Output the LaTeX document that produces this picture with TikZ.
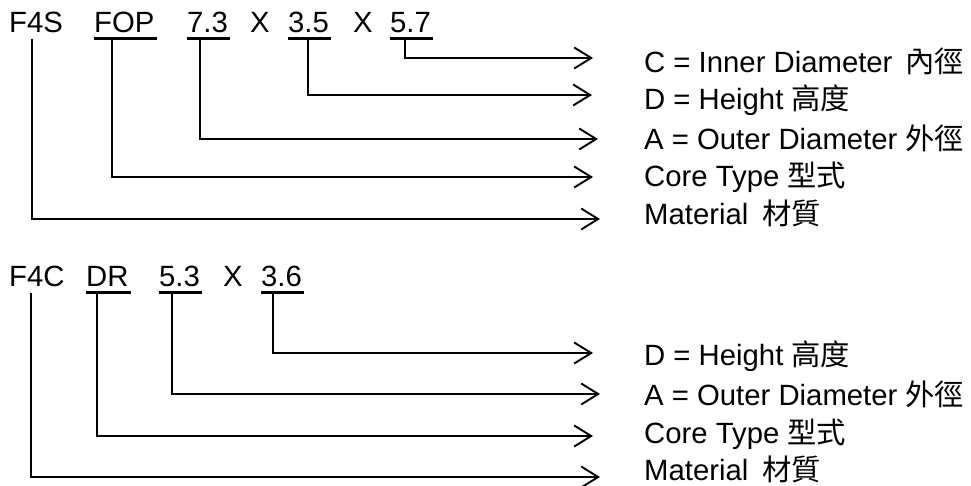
\documentclass[tikz,border=0pt]{standalone}
\usepackage{fontspec}
\setmainfont{Liberation Sans}
\newfontfamily\cjk{Noto Sans CJK TC}
\usetikzlibrary{arrows.meta}
\begin{document}
\begin{tikzpicture}[x=1pt,y=-1pt,
  txt/.style={inner sep=0pt, anchor=base west, font=\fontsize{29.3}{35}\selectfont},
  conn/.style={line width=1.9pt},
  arr/.style={conn, -{Straight Barb[length=17pt,width=21pt,line width=1.9pt]}},
  uline/.style={line width=3pt}]
\useasboundingbox (0,0) rectangle (971,486);

% ---------- block 1 ----------
\node[txt] (f4s) at (9,33) {F4S};
\node[txt] (fop) at (94,33) {FOP};
\node[txt] (a73) at (187,33) {7.3};
\node[txt] (x1) at (250,33) {X};
\node[txt] (a35) at (288,33) {3.5};
\node[txt] (x2) at (353,33) {X};
\node[txt] (a57) at (390,33) {5.7};
\foreach \n in {fop,a73,a35,a57}
  \draw[uline] ([yshift=-5.5pt]\n.base west) -- ([xshift=2pt,yshift=-5.5pt]\n.base east);

\node[txt] (l57) at (644,73) {C = Inner Diameter\hspace{13pt}{\cjk 內徑}};
\node[txt] (l35) at (644,110) {D = Height {\cjk 高度}};
\node[txt] (l73) at (644,150) {A = Outer Diameter {\cjk 外徑}};
\node[txt] (lfop) at (644,187) {Core Type {\cjk 型式}};
\node[txt] (lf4s) at (644,225) {Material\hspace{14pt}{\cjk 材質}};

\coordinate (t57) at (593,58);
\coordinate (t35) at (592,95);
\coordinate (t73) at (598,139);
\coordinate (tfop) at (593,177);
\coordinate (tf4s) at (600,219);

\draw[arr] ([xshift=15pt,yshift=-6pt]a57.base west) |- (t57);
\draw[arr] ([xshift=20pt,yshift=-6pt]a35.base west) |- (t35);
\draw[arr] ([xshift=13pt,yshift=-6pt]a73.base west) |- (t73);
\draw[arr] ([xshift=18pt,yshift=-6pt]fop.base west) |- (tfop);
\draw[arr] ([xshift=23pt,yshift=-6pt]f4s.base west) |- (tf4s);

% ---------- block 2 ----------
\node[txt] (f4c) at (9,287) {F4C};
\node[txt] (dr) at (86,287) {DR};
\node[txt] (b53) at (159,287) {5.3};
\node[txt] (x3) at (223,287) {X};
\node[txt] (b36) at (261,287) {3.6};
\foreach \n in {dr,b53,b36}
  \draw[uline] ([yshift=-5.5pt]\n.base west) -- ([xshift=2pt,yshift=-5.5pt]\n.base east);

\node[txt] (m36) at (644,365) {D = Height {\cjk 高度}};
\node[txt] (m53) at (644,405) {A = Outer Diameter {\cjk 外徑}};
\node[txt] (mdr) at (644,443) {Core Type {\cjk 型式}};
\node[txt] (mf4c) at (644,480) {Material\hspace{14pt}{\cjk 材質}};

\coordinate (s36) at (593,353);
\coordinate (s53) at (600,394);
\coordinate (sdr) at (593,436);
\coordinate (sf4c) at (600,477);

\draw[arr] ([xshift=12pt,yshift=-6pt]b36.base west) |- (s36);
\draw[arr] ([xshift=13pt,yshift=-6pt]b53.base west) |- (s53);
\draw[arr] ([xshift=11pt,yshift=-6pt]dr.base west) |- (sdr);
\draw[arr] ([xshift=22pt,yshift=-6pt]f4c.base west) |- (sf4c);
\end{tikzpicture}
\end{document}
